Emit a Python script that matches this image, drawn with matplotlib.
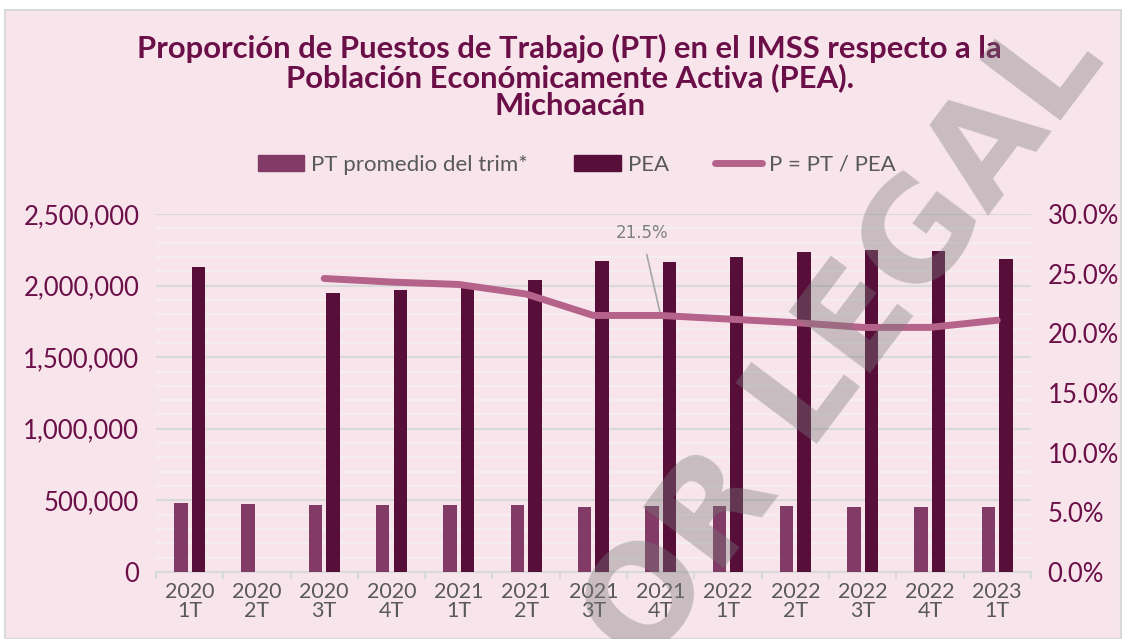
import numpy as np
import matplotlib.pyplot as plt
from matplotlib.ticker import FuncFormatter, MultipleLocator
from matplotlib.patches import Rectangle
from matplotlib.lines import Line2D

plt.rcParams['font.family'] = ['Lato', 'DejaVu Sans']

trimestres = ["2020\n1T", "2020\n2T", "2020\n3T", "2020\n4T", "2021\n1T", "2021\n2T",
              "2021\n3T", "2021\n4T", "2022\n1T", "2022\n2T", "2022\n3T", "2022\n4T", "2023\n1T"]
pt_prom = [483000, 478000, 471000, 471000, 471000, 470000, 457000,
           460000, 460000, 462000, 453000, 453000, 455000]
pea = [2127000, np.nan, 1947000, 1968000, 1987000, 2038000, 2169000,
       2164000, 2201000, 2234000, 2248000, 2243000, 2185000]
p_ratio = [np.nan, np.nan, 0.246, 0.243, 0.241, 0.233, 0.215,
           0.215, 0.212, 0.209, 0.205, 0.205, 0.211]

bg = '#F8E5EC'
c_pt = '#823A66'
c_pea = '#570F3A'
c_line = '#B5638A'
c_title = '#6B0F48'
c_gray = '#595959'

fig = plt.figure(figsize=(11.26, 6.39), dpi=100)
fig.patch.set_facecolor('white')
fig.patches.append(Rectangle((5/1126, 0), 1116/1126, 629/639, transform=fig.transFigure,
                             facecolor=bg, edgecolor='#D9D9D9', lw=1.5, zorder=-10))

ax = fig.add_axes([0.1385, 0.1049, 0.777, 0.5601])
ax.patch.set_alpha(0)
x = np.arange(len(trimestres))
w = 0.2
ax.bar(x - 0.13, pt_prom, width=w, color=c_pt, zorder=3)
ax.bar(x + 0.13, pea, width=w, color=c_pea, zorder=3)
ax.set_ylim(0, 2500000)
ax.set_xlim(-0.5, len(x) - 0.5)
ax.yaxis.set_major_locator(MultipleLocator(500000))
ax.yaxis.set_minor_locator(MultipleLocator(100000))
ax.yaxis.set_major_formatter(FuncFormatter(lambda v, p: f"{int(v):,}"))
ax.grid(axis='y', which='minor', color='#F5F0F2', lw=1.3, zorder=0)
ax.grid(axis='y', which='major', color='#D9D9D9', lw=1.5, zorder=1)
for s in ['top', 'left', 'right']:
    ax.spines[s].set_visible(False)
ax.spines['bottom'].set_color('#D9D9D9')
ax.spines['bottom'].set_linewidth(1.5)
ax.set_xticks(x)
ax.set_xticklabels(trimestres, color=c_gray, fontsize=15.5, linespacing=0.98)
ax.set_xticks(np.arange(len(x) + 1) - 0.5, minor=True)
ax.tick_params(axis='x', which='major', length=0, pad=7)
ax.tick_params(axis='x', which='minor', length=5, color='#D9D9D9', width=1.5)
ax.tick_params(axis='y', which='both', length=0)
ax.tick_params(axis='y', labelsize=18.5, labelcolor=c_title, pad=12)

ax2 = ax.twinx()
ax2.plot(x, p_ratio, color=c_line, lw=5, solid_capstyle='round', zorder=5)
ax2.set_ylim(0, 0.30)
ax2.yaxis.set_major_locator(MultipleLocator(0.05))
ax2.yaxis.set_major_formatter(FuncFormatter(lambda v, p: f"{v*100:.1f}%"))
ax2.tick_params(axis='y', length=0, labelsize=18.5, labelcolor=c_title, pad=12)
for s in ax2.spines.values():
    s.set_visible(False)

ax2.annotate("21.5%", xy=(7, 0.215), xytext=(6.72, 0.284), color='#7F7F7F', fontsize=12,
             ha='center', va='center', family='DejaVu Sans',
             arrowprops=dict(arrowstyle='-', color='#A6A6A6', lw=1.2, shrinkA=7, shrinkB=0))

fig.text(0.506, 0.8795, "Proporción de Puestos de Trabajo (PT) en el IMSS respecto a la\n"
         "Población Económicamente Activa (PEA).\nMichoacán",
         ha='center', va='center', fontsize=22.3, fontweight='bold', color=c_title, linespacing=1.0)

handles = [Rectangle((0, 0), 1, 1, color=c_pt), Rectangle((0, 0), 1, 1, color=c_pea),
           Line2D([0], [0], color=c_line, lw=5, solid_capstyle='round')]
fig.legend(handles, ["PT promedio del trim*", "PEA", "P = PT / PEA"], loc='center',
           bbox_to_anchor=(0.512, 0.742), ncol=3, frameon=False, fontsize=16,
           labelcolor=c_gray, handlelength=2.1, handleheight=0.7, columnspacing=2.1, handletextpad=0.3)

# marca de agua
fig.text(758/1126, 1 - 458/639, "VALOR LEGAL", rotation=53, fontsize=100, fontweight='bold',
         family='DejaVu Sans', color='#797979', alpha=0.38, ha='center', va='center', zorder=20)

fig.savefig("out.png", dpi=100, facecolor='white')
